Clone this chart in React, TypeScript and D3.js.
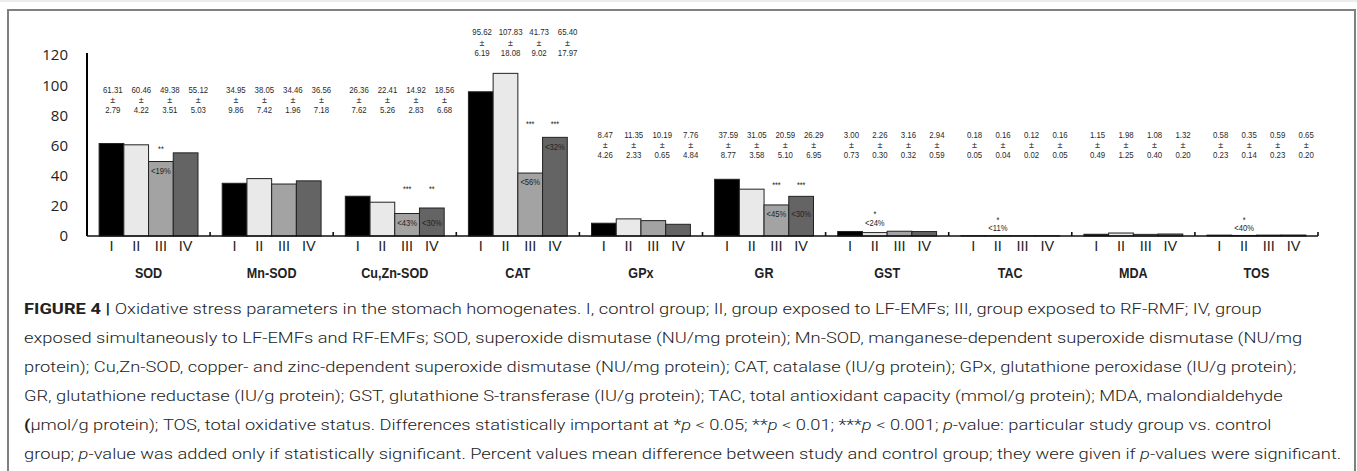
import React, { useRef, useLayoutEffect, useState } from 'react';
import * as d3 from 'd3';

const categories = ["SOD", "Mn-SOD", "Cu,Zn-SOD", "CAT", "GPx", "GR", "GST", "TAC", "MDA", "TOS"];
const groups = ["I", "II", "III", "IV"];

const meanI = [61.31, 34.95, 26.36, 95.62, 8.47, 37.59, 3.00, 0.18, 1.15, 0.58];
const meanII = [60.46, 38.05, 22.41, 107.83, 11.35, 31.05, 2.26, 0.16, 1.98, 0.35];
const meanIII = [49.38, 34.46, 14.92, 41.73, 10.19, 20.59, 3.16, 0.12, 1.08, 0.59];
const meanIV = [55.12, 36.56, 18.56, 65.40, 7.76, 26.29, 2.94, 0.16, 1.32, 0.65];

const sdI = ["2.79", "9.86", "7.62", "6.19", "4.26", "8.77", "0.73", "0.05", "0.49", "0.23"];
const sdII = ["4.22", "7.42", "5.26", "18.08", "2.33", "3.58", "0.30", "0.04", "1.25", "0.14"];
const sdIII = ["3.51", "1.96", "2.83", "9.02", "0.65", "5.10", "0.32", "0.02", "0.40", "0.23"];
const sdIV = ["5.03", "7.18", "6.68", "17.97", "4.84", "6.95", "0.59", "0.05", "0.20", "0.20"];

// level (in axis units) at which the mean ± SD annotation sits for each category
const annotationLevel = [95, 95, 95, 133, 65, 65, 65, 65, 65, 65];

const yTicks = [0, 20, 40, 60, 80, 100, 120];

// significance marks
const sigCategory = ["SOD", "Cu,Zn-SOD", "Cu,Zn-SOD", "CAT", "CAT", "GR", "GR", "GST", "TAC", "TOS"];
const sigGroup = ["III", "III", "IV", "III", "IV", "III", "IV", "II", "II", "II"];
const sigStars = ["**", "***", "**", "***", "***", "***", "***", "*", "*", "*"];
const sigPct = ["<19%", "<43%", "<30%", "<56%", "<32%", "<45%", "<30%", "<24%", "<11%", "<40%"];
const starLevel = [55.7, 29.2, 29.2, 72.3, 72.3, 31.8, 31.8, 12.6, 8.6, 8.6];
const pctLevel = [40.8, 6.3, 6.3, 33.5, 56.7, 12.3, 12.3, 6.3, 3.0, 3.0];

const barColors = ["#000000", "#e9e9e9", "#a3a3a3", "#646464"];

type Seg = { t: string; b?: boolean; i?: boolean };
const captionLines: Seg[][] = [
  [{ t: "FIGURE 4 | ", b: true }, { t: "Oxidative stress parameters in the stomach homogenates. I, control group; II, group exposed to LF-EMFs; III, group exposed to RF-RMF; IV, group" }],
  [{ t: "exposed simultaneously to LF-EMFs and RF-EMFs; SOD, superoxide dismutase (NU/mg protein); Mn-SOD, manganese-dependent superoxide dismutase (NU/mg" }],
  [{ t: "protein); Cu,Zn-SOD, copper- and zinc-dependent superoxide dismutase (NU/mg protein); CAT, catalase (IU/g protein); GPx, glutathione peroxidase (IU/g protein);" }],
  [{ t: "GR, glutathione reductase (IU/g protein); GST, glutathione S-transferase (IU/g protein); TAC, total antioxidant capacity (mmol/g protein); MDA, malondialdehyde" }],
  [{ t: "(", b: true }, { t: "μmol/g protein); TOS, total oxidative status. Differences statistically important at *" }, { t: "p", i: true }, { t: " < 0.05; **" }, { t: "p", i: true }, { t: " < 0.01; ***" }, { t: "p", i: true }, { t: " < 0.001; " }, { t: "p", i: true }, { t: "-value: particular study group vs. control" }],
  [{ t: "group; " }, { t: "p", i: true }, { t: "-value was added only if statistically significant. Percent values mean difference between study and control group; they were given if " }, { t: "p", i: true }, { t: "-values were significant." }],
];

export default function App() {
  const W = 1357, H = 471;
  const x = d3.scaleBand<string>().domain(categories).range([87, 1318]);
  const xi = d3.scaleBand<string>().domain(groups).range([0, x.bandwidth()]).paddingOuter(0.49);
  const y = d3.scaleLinear().domain([0, 120]).range([236, 55]);
  const means = [meanI, meanII, meanIII, meanIV];
  const sds = [sdI, sdII, sdIII, sdIV];
  const fmt = d3.format(".2f");

  const lastRef = useRef<SVGTextElement | null>(null);
  const [k, setK] = useState(1);
  useLayoutEffect(() => {
    if (lastRef.current) {
      const w = lastRef.current.getComputedTextLength();
      if (w > 0) setK(1318 / w);
    }
  }, []);

  const labelFont = "'Liberation Sans', Arial, sans-serif";
  const annSpacing = 28.5;
  const narrow = 0.8;

  return (
    <svg width={W} height={H} style={{ position: 'absolute', left: 0, top: 0, background: '#fff' }}>
      <rect x={0} y={0} width={W} height={H} fill="#fff" />
      <rect x={0} y={0} width={W} height={2} fill="#ececec" />
      <rect x={8} y={10} width={1347} height={480} fill="none" stroke="#808080" strokeWidth={2} />

      {/* y axis */}
      <line x1={87} x2={87} y1={y(0)} y2={y(120) - 2} stroke="#000" strokeWidth={2} />
      {yTicks.map(t => (
        <text key={t} x={68} y={y(t)} dy="0.36em" textAnchor="end" fontSize={15}
          fontFamily="'Open Sans', 'Liberation Sans', sans-serif" fill="#222">{t}</text>
      ))}

      {/* bars */}
      {categories.map((c, ci) => groups.map((g, gi) => {
        const v = means[gi][ci];
        const bx = (x(c) as number) + (xi(g) as number);
        return (
          <rect key={c + g} x={bx} y={y(v)} width={xi.bandwidth()} height={y(0) - y(v)}
            fill={barColors[gi]} stroke="#222" strokeWidth={1} />
        );
      }))}

      {/* x axis */}
      <line x1={87} x2={1318} y1={y(0)} y2={y(0)} stroke="#111" strokeWidth={1.6} />
      {categories.map(c => {
        const xe = (x(c) as number) + x.bandwidth();
        return <line key={'t' + c} x1={xe} x2={xe} y1={y(0) - 4} y2={y(0)} stroke="#111" strokeWidth={1.6} />;
      })}

      {/* group labels */}
      {categories.map(c => groups.map(g => (
        <text key={'g' + c + g} x={(x(c) as number) + (xi(g) as number) + xi.bandwidth() / 2} y={251}
          textAnchor="middle" fontSize={14.5} fontFamily="'Liberation Sans', Arial, sans-serif" fill="#222">{g}</text>
      )))}

      {/* category labels */}
      {categories.map(c => (
        <text key={'c' + c} transform={`translate(${(x(c) as number) + x.bandwidth() / 2},278) scale(0.84,1)`} textAnchor="middle"
          fontSize={15} fontWeight="bold" fontFamily={labelFont} fill="#222">{c}</text>
      ))}

      {/* mean ± sd annotations */}
      {categories.map((c, ci) => groups.map((g, gi) => {
        const cx = (x(c) as number) + x.bandwidth() / 2 + (gi - 1.5) * annSpacing + 7;
        const by = y(annotationLevel[ci]);
        return (
          <g key={'a' + c + g} fontFamily={labelFont} fill="#2a2a2a" textAnchor="middle">
            <text transform={`translate(${cx},${by}) scale(${narrow},1)`} fontSize={9.8}>{fmt(means[gi][ci])}</text>
            <text x={cx} y={by + 10.5} fontSize={9}>±</text>
            <text transform={`translate(${cx},${by + 20.5}) scale(${narrow},1)`} fontSize={9.8}>{sds[gi][ci]}</text>
          </g>
        );
      }))}

      {/* significance */}
      {sigCategory.map((c, i) => {
        const cx = (x(c) as number) + (xi(sigGroup[i]) as number) + xi.bandwidth() / 2;
        return (
          <g key={'s' + i} fontFamily={labelFont} fill="#222" textAnchor="middle">
            <text transform={`translate(${cx},${y(starLevel[i])}) scale(${narrow},1)`} fontSize={9}>{sigStars[i]}</text>
            <text transform={`translate(${cx},${y(pctLevel[i])}) scale(${narrow},1)`} fontSize={9.5}>{sigPct[i]}</text>
          </g>
        );
      })}

      {/* caption */}
      <g transform={`translate(24,0) scale(${k},1)`} fontFamily="Roboto, 'Liberation Sans', sans-serif" fontWeight={300} fontSize={15} fill="#222">
        {captionLines.map((line, li) => (
          <text key={'l' + li} x={0} y={314 + li * 29} ref={li === captionLines.length - 1 ? lastRef : undefined}>
            {line.map((s, si) => (
              <tspan key={si} fontWeight={s.b ? 'bold' : undefined} fontStyle={s.i ? 'italic' : undefined}>{s.t}</tspan>
            ))}
          </text>
        ))}
      </g>
    </svg>
  );
}
